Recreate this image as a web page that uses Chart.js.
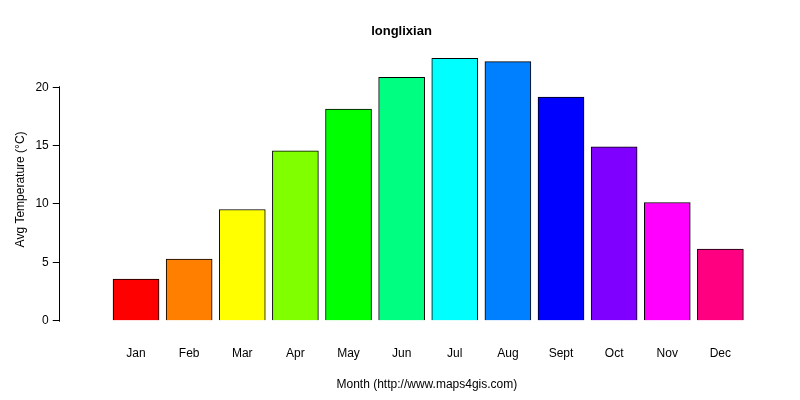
<!DOCTYPE html>
<html><head>
<script src="https://cdn.jsdelivr.net/npm/chart.js@4"></script>
<style>body{margin:0;background:#fff}#wrap{width:800px;height:400px}</style>
</head><body><div id="wrap"><canvas id="c"></canvas></div>
<script>
const months = ['Jan','Feb','Mar','Apr','May','Jun','Jul','Aug','Sept','Oct','Nov','Dec'];
const temps = [3.57, 5.28, 9.53, 14.55, 18.13, 20.85, 22.47, 22.2, 19.15, 14.9, 10.13, 6.13];
const colors = ['#FF0000','#FF8000','#FFFF00','#80FF00','#00FF00','#00FF80','#00FFFF','#0080FF','#0000FF','#8000FF','#FF00FF','#FF0080'];
const yTicks = [0, 5, 10, 15, 20];

Chart.defaults.font.family = 'Liberation Sans, Arial, sans-serif';
Chart.defaults.color = '#000';

new Chart(document.getElementById('c').getContext('2d'), {
  type: 'bar',
  data: {
    datasets: [{
      data: temps.map((v, i) => ({x: i + 1, y: v})),
      backgroundColor: colors,
      borderColor: '#000',
      borderWidth: 1,
      barThickness: 46
    }]
  },
  options: {
    responsive: true,
    maintainAspectRatio: false,
    animation: false,
    layout: {padding: {left: 9, right: 6, top: 2, bottom: 0}},
    plugins: {
      legend: {display: false},
      tooltip: {enabled: false},
      title: {display: true, text: 'longlixian', font: {size: 13, weight: 'bold'}, padding: {top: 22, bottom: 8}}
    },
    scales: {
      x: {
        type: 'linear', min: 0.14, max: 12.81,
        afterBuildTicks: s => { s.ticks = months.map((m, i) => ({value: i + 1})); },
        ticks: {callback: v => months[v - 1], font: {size: 12}, padding: 7, maxRotation: 0},
        grid: {display: false},
        border: {display: false},
        title: {display: true, text: 'Month (http://www.maps4gis.com)', font: {size: 12}, padding: {top: 10, bottom: 8}}
      },
      y: {
        min: -0.9, max: 23.4,
        afterBuildTicks: s => { s.ticks = yTicks.map(v => ({value: v})); },
        ticks: {font: {size: 12}, padding: 4},
        grid: {drawOnChartArea: false, tickLength: 7, color: '#000'},
        border: {display: true, color: '#000'},
        title: {display: true, text: 'Avg Temperature (°C)', font: {size: 12}}
      }
    }
  },
  plugins: [{
    id: 'yline',
    afterDraw(chart) {
      // R-style axis line only spans the tick range
      const y = chart.scales.y, ctx = chart.ctx;
      ctx.save();
      ctx.fillStyle = '#fff';
      ctx.fillRect(y.right - 1, chart.chartArea.top - 1, 2, y.getPixelForValue(20) - chart.chartArea.top);
      ctx.fillRect(y.right - 1, y.getPixelForValue(0) + 1, 2, chart.chartArea.bottom - y.getPixelForValue(0) + 1);
      ctx.restore();
    }
  }]
});
</script></body></html>
